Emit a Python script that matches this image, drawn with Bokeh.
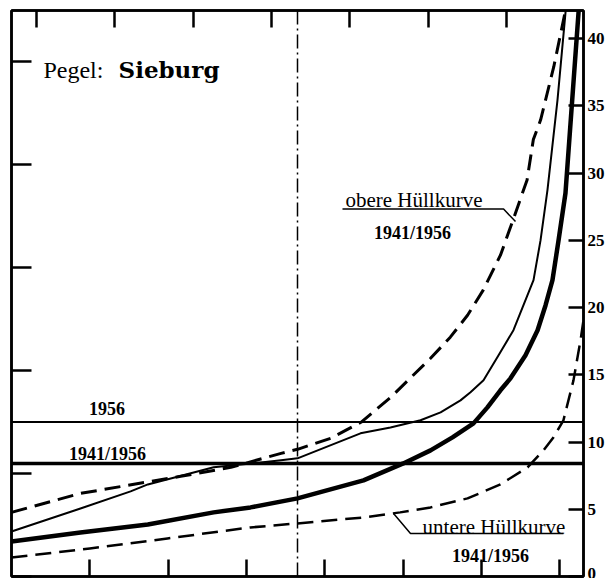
from bokeh.plotting import figure
from bokeh.models import (Range1d, LinearAxis, FixedTicker, Span, Label, LabelSet,
                          ColumnDataSource)
from bokeh.embed import file_html
from bokeh.resources import INLINE

# ---------------- data (days of year vs. discharge, right-axis units) ----------------
upper_env_days = [0, 44, 108, 140, 172, 182.5, 203.6, 223, 242, 255, 267.4, 280, 291, 301,
                  312, 320, 329, 333, 337.6, 346, 353.5, 355]
upper_env_vals = [4.77, 6.18, 7.45, 8.12, 9.16, 9.46, 10.28, 11.47, 13.33, 14.82, 16.23, 17.8,
                  19.43, 21.3, 23.9, 26.5, 29.5, 32.5, 33.95, 37.9, 42.1, 44]

curve_1956_days = [0, 44, 76, 87, 129, 172, 182.5, 222.7, 241.8, 261, 273.8, 286.5, 292.9,
                   301.2, 310.8, 320.3, 326.7, 333.1, 337.6, 342, 348.4, 353.5, 355]
curve_1956_vals = [3.35, 5.06, 6.33, 6.85, 8.12, 8.64, 8.79, 10.65, 11.09, 11.62, 12.21, 13.1,
                   13.7, 14.59, 16.46, 18.32, 20.18, 22.04, 25.02, 28.74, 35.44, 41.92, 44]

curve_4156_days = [0, 44, 87, 129, 152.5, 182.5, 224.6, 250, 267.4, 281.4, 294.8, 303.7, 312,
                   318.4, 328, 335.7, 340.8, 345.2, 349.1, 353.5, 361.8, 363]
curve_4156_vals = [2.61, 3.28, 3.87, 4.77, 5.14, 5.81, 7.15, 8.41, 9.38, 10.35, 11.39, 12.58,
                   13.85, 14.74, 16.46, 18.32, 20.18, 22.04, 25.02, 28.52, 41.9, 44]

lower_env_days = [0, 50, 99.5, 152.5, 182.5, 224.6, 248, 267.4, 291, 312, 329.3, 339.5, 345.9,
                  352.2, 358.6, 363.1, 365]
lower_env_vals = [1.41, 2.08, 2.83, 3.65, 3.95, 4.39, 4.77, 5.14, 5.81, 6.85, 8.12, 9.38, 10.35,
                  11.62, 14.59, 17.57, 19.06]

mean_1956 = 11.5
mean_1941_1956 = 8.4
median_day = 182.5

right_ticks = [0, 5, 10, 15, 20, 25, 30, 35, 40]
left_ticks = [0, 10, 20, 30, 40, 50]
left_labels = ["0", "10", "20", "30", "40", "50"]
bottom_ticks = [50, 100, 150, 200, 250, 300, 350]
top_ticks = [16, 66, 116, 166, 216, 266, 316]

upper_leader_days = [211.2, 314, 321.6]
upper_leader_vals = [27.33, 27.33, 26.4]
lower_leader_days = [243.8, 254.6, 352.2]
lower_leader_vals = [4.69, 3.2, 3.2]

# ---------------- figure ----------------
p = figure(width=609, height=578, output_backend="svg", toolbar_location=None,
           x_range=Range1d(0, 365), y_range=Range1d(0, 42.1),
           x_axis_location="below", y_axis_location=None,
           min_border_left=11, min_border_right=26, min_border_top=10, min_border_bottom=2,
           background_fill_color="white", border_fill_color="white")
p.extra_y_ranges = {"left": Range1d(0, 55)}
p.grid.visible = False
p.outline_line_color = "black"
p.outline_line_width = 2.5

def style_axis(ax, tick_len, show_labels=False):
    ax.axis_line_color = "black"
    ax.axis_line_width = 2.5
    ax.major_tick_in = tick_len
    ax.major_tick_out = 0
    ax.major_tick_line_width = 2.5
    ax.major_tick_line_color = "black"
    ax.minor_tick_line_color = None
    if not show_labels:
        ax.major_label_text_font_size = "1px"
        ax.major_label_text_color = None
        ax.major_label_standoff = 0

# bottom
xa = p.xaxis[0]
xa.ticker = FixedTicker(ticks=bottom_ticks)
style_axis(xa, 17)

# top
top_axis = LinearAxis(ticker=FixedTicker(ticks=top_ticks))
style_axis(top_axis, 17)
p.add_layout(top_axis, "above")

# left
left_axis = LinearAxis(y_range_name="left", ticker=FixedTicker(ticks=left_ticks))
style_axis(left_axis, 20)
p.add_layout(left_axis, "left")

# right
right_axis = LinearAxis(ticker=FixedTicker(ticks=right_ticks))
style_axis(right_axis, 15, show_labels=True)
right_axis.major_label_standoff = 4
right_axis.major_label_text_font = "Liberation Serif"
right_axis.major_label_text_font_style = "bold"
right_axis.major_label_text_font_size = "17px"
right_axis.major_label_text_color = "black"
p.add_layout(right_axis, "right")

# left labels (cut off at the page edge, as in the scan)
left_src = ColumnDataSource(dict(x=[0] * len(left_ticks), y=left_ticks, t=left_labels))
p.add_layout(LabelSet(x="x", y="y", text="t", source=left_src, y_range_name="left",
                      x_offset=-5, text_align="right", text_baseline="middle",
                      text_font="Liberation Serif", text_font_style="bold",
                      text_font_size="17px", text_color="black"))

# reference lines
p.add_layout(Span(location=median_day, dimension="height", line_color="black",
                  line_width=1.5, line_dash="14 4 2 4"))
p.add_layout(Span(location=mean_1956, dimension="width", line_color="black", line_width=2))
p.add_layout(Span(location=mean_1941_1956, dimension="width", line_color="black", line_width=3.5))

# curves
p.line(upper_env_days, upper_env_vals, line_color="black", line_width=3, line_dash="16 8",
       line_join="round")
p.line(lower_env_days, lower_env_vals, line_color="black", line_width=2.5, line_dash="16 8",
       line_join="round")
p.line(curve_1956_days, curve_1956_vals, line_color="black", line_width=2, line_join="round")
p.line(curve_4156_days, curve_4156_vals, line_color="black", line_width=4.5, line_join="round")

# leader lines
p.line(upper_leader_days, upper_leader_vals, line_color="black", line_width=1.5)
p.line(lower_leader_days, lower_leader_vals, line_color="black", line_width=1.5)

# texts
def lab(x, y, text, size, align="left", bold=False, font="Liberation Serif"):
    p.add_layout(Label(x=x, y=y, text=text, text_align=align, text_baseline="alphabetic",
                       text_font=font, text_font_size=size,
                       text_font_style="bold" if bold else "normal", text_color="black"))

lab(20.4, 37.68, "Pegel:", "24px")
lab(68.3, 37.68, "Sieburg", "23px", bold=True, font="DejaVu Serif")
lab(60.9, 12.51, "1956", "18px", align="center", bold=True)
lab(61.3, 9.08, "1941/1956", "18px", align="center", bold=True)
lab(213.1, 28.0, "obere Hüllkurve", "21px")
lab(255.9, 25.54, "1941/1956", "18px", align="center", bold=True)
lab(262.3, 3.65, "untere Hüllkurve", "21px")
lab(305.7, 1.56, "1941/1956", "18px", align="center", bold=True)

open("out.html", "w").write(file_html(p, INLINE))
